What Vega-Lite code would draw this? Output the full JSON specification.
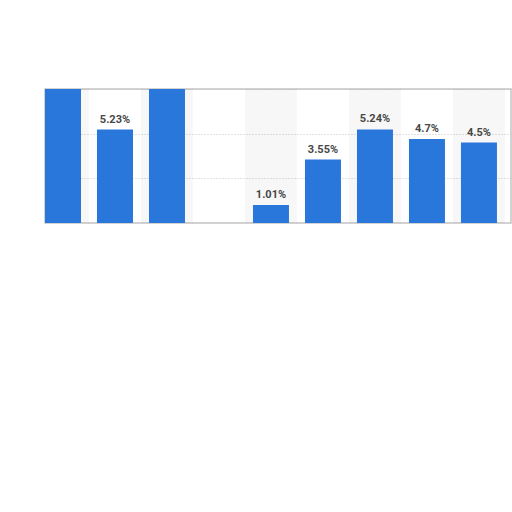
{
  "$schema": "https://vega.github.io/schema/vega-lite/v6.json",
  "width": 466,
  "height": 134,
  "autosize": {"type": "none"},
  "padding": {"left": 45, "top": 89, "right": 1, "bottom": 10},
  "background": "white",
  "datasets": {
    "bars": [
      {"cat": "1", "value": 8.6, "label": ""},
      {"cat": "2", "value": 5.23, "label": "5.23%"},
      {"cat": "3", "value": 9.1, "label": ""},
      {"cat": "4", "value": null, "label": ""},
      {"cat": "5", "value": 1.01, "label": "1.01%"},
      {"cat": "6", "value": 3.55, "label": "3.55%"},
      {"cat": "7", "value": 5.24, "label": "5.24%"},
      {"cat": "8", "value": 4.7, "label": "4.7%"},
      {"cat": "9", "value": 4.5, "label": "4.5%"}
    ],
    "stripes": [
      {"cat": "1"}, {"cat": "3"}, {"cat": "5"}, {"cat": "7"}, {"cat": "9"}
    ]
  },
  "config": {
    "view": {"stroke": "#c4c4c4", "strokeWidth": 1.5},
    "axis": {"domain": false, "ticks": false, "labels": false, "title": null},
    "axisY": {"grid": true, "gridColor": "#c4c4c4", "gridDash": [1, 2], "gridWidth": 1}
  },
  "layer": [
    {
      "data": {"name": "stripes"},
      "mark": {"type": "bar", "color": "#000000", "opacity": 0.03, "width": {"band": 1.4444}, "clip": true},
      "encoding": {
        "x": {"field": "cat", "type": "nominal", "axis": null,
          "scale": {"domain": ["1","2","3","4","5","6","7","8","9"], "paddingInner": 0.3077, "paddingOuter": 0.135, "align": 0}},
        "y": {"datum": 7.5, "type": "quantitative"}
      }
    },
    {
      "data": {"name": "bars"},
      "mark": {"type": "bar", "color": "#2a77db", "clip": true},
      "encoding": {
        "x": {"field": "cat", "type": "nominal", "axis": null},
        "y": {"field": "value", "type": "quantitative",
          "scale": {"domain": [0, 7.5], "nice": false},
          "axis": {"values": [2.5, 5, 7.5]}}
      }
    },
    {
      "data": {"name": "bars"},
      "mark": {"type": "text", "font": "Roboto", "fontSize": 11, "fontWeight": "bold", "color": "#474747", "baseline": "alphabetic", "dy": -7, "clip": true},
      "encoding": {
        "x": {"field": "cat", "type": "nominal", "axis": null},
        "y": {"field": "value", "type": "quantitative"},
        "text": {"field": "label"}
      }
    }
  ]
}
